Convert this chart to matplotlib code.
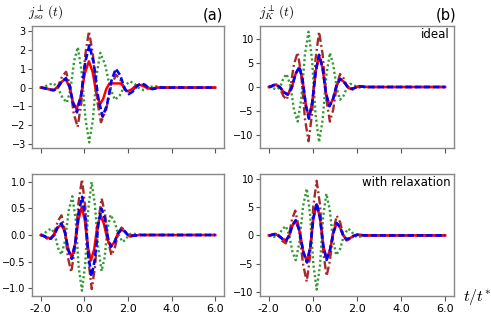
import matplotlib
matplotlib.use('Agg')
import matplotlib.pyplot as plt

plt.rcParams['mathtext.fontset'] = 'cm'
plt.rcParams['font.family'] = ['DejaVu Sans']

# ---------------- data ----------------
# panel (a): j_so, ideal
t_a_red = [-2.0,-1.8,-1.6,-1.4,-1.22,-1.04,-0.86,-0.69,-0.53,-0.36,-0.17,0.02,0.21,0.38,0.55,0.72,0.86,1.01,1.15,1.65,1.76,1.86,1.97,2.15,2.32,2.5,2.67,2.83,3.0,3.13,3.27,3.4,6.0]
v_a_red = [0,-0.03,-0.09,-0.12,0.02,0.31,0.45,0.05,-0.75,-1.15,-0.51,0.76,1.4,0.83,-0.31,-0.88,-0.61,-0.06,0.22,0.22,0.12,-0.10,-0.2,-0.11,0.06,0.15,0.10,0.0,-0.05,-0.04,-0.01,0,0]
t_a_blue = [-2.0,-1.8,-1.6,-1.4,-1.21,-1.03,-0.84,-0.67,-0.51,-0.34,-0.15,0.04,0.23,0.43,0.64,0.84,1.04,1.24,1.44,1.64,1.83,2.03,2.22,2.41,2.6,2.77,2.93,3.1,3.23,3.37,3.5,6.0]
v_a_blue = [0,-0.04,-0.11,-0.15,0.01,0.34,0.5,0.05,-0.87,-1.32,-0.43,1.36,2.25,1.30,-0.60,-1.55,-0.91,0.36,1.0,0.66,-0.01,-0.35,-0.21,0.08,0.22,0.15,-0.01,-0.08,-0.06,-0.02,0,0]
t_a_brown = [-2.0,-1.79,-1.59,-1.38,-1.2,-1.02,-0.84,-0.66,-0.49,-0.31,-0.14,0.04,0.21,0.39,0.58,0.76,0.99,1.22,1.45,1.64,1.83,2.02,2.2,2.37,2.55,2.72,2.88,3.05,3.2,3.35,3.5,6.0]
v_a_brown = [0,-0.04,-0.11,-0.15,0.10,0.59,0.84,0.11,-1.37,-2.1,-0.83,1.73,3.0,1.79,-0.64,-1.85,-1.22,0.05,0.68,0.44,-0.06,-0.3,-0.18,0.06,0.18,0.12,0.01,-0.05,-0.04,-0.01,0,0]
t_a_green = [-2.0,-1.8,-1.6,-1.4,-1.2,-1.0,-0.8,-0.63,-0.47,-0.3,-0.13,0.05,0.22,0.39,0.56,0.73,0.95,1.18,1.4,1.63,1.85,2.08,2.29,2.49,2.7,2.87,3.03,3.2,3.37,3.53,3.7,6.0]
v_a_green = [0,0.06,0.17,0.22,-0.04,-0.55,-0.8,-0.06,1.41,2.15,0.88,-1.65,-2.92,-1.73,0.66,1.85,1.23,-0.03,-0.65,-0.41,0.09,0.33,0.22,-0.02,-0.13,-0.08,0.03,0.08,0.06,0.02,0,0]

# panel (b): j_K, ideal
t_b_brown = [-2.0,-1.88,-1.77,-1.65,-1.5,-1.34,-1.19,-1.02,-0.86,-0.69,-0.53,-0.36,-0.2,-0.04,0.12,0.28,0.44,0.61,0.77,0.92,1.08,1.23,1.39,1.54,1.7,1.83,1.97,2.1,2.23,2.37,2.5,6.0]
v_b_brown = [0,0.13,0.38,0.5,-0.29,-1.86,-2.65,-0.19,4.74,7.2,2.58,-6.68,-11.3,-5.6,5.8,11.5,6.83,-2.53,-7.2,-4.73,0.23,2.7,1.85,0.15,-0.7,-0.48,-0.03,0.2,0.15,0.05,0,0]
t_b_blue = [-2.0,-1.89,-1.79,-1.68,-1.5,-1.32,-1.14,-0.96,-0.79,-0.61,-0.47,-0.32,-0.18,-0.03,0.13,0.28,0.44,0.59,0.75,0.91,1.07,1.23,1.39,1.56,1.72,1.85,1.97,2.1,2.23,2.37,2.5,6.0]
v_b_blue = [0,0.13,0.38,0.5,-0.03,-1.08,-1.6,-0.15,2.75,4.2,1.5,-3.9,-6.6,-3.28,3.38,6.7,4.03,-1.33,-4.0,-2.58,0.28,1.7,1.18,0.13,-0.4,-0.28,-0.03,0.1,0.08,0.03,0,0]
t_b_red = t_b_blue
v_b_red = [0,0.12,0.37,0.48,-0.03,-1.05,-1.55,-0.15,2.67,4.07,1.46,-3.78,-6.4,-3.18,3.28,6.5,3.91,-1.29,-3.88,-2.5,0.27,1.65,1.14,0.13,-0.39,-0.27,-0.03,0.1,0.08,0.03,0,0]
t_b_green = [-2.0,-1.87,-1.73,-1.6,-1.46,-1.33,-1.19,-1.02,-0.86,-0.69,-0.53,-0.36,-0.2,-0.04,0.12,0.28,0.44,0.61,0.77,0.92,1.08,1.23,1.39,1.54,1.7,1.83,1.97,2.1,2.23,2.37,2.5,6.0]
v_b_green = [0,-0.13,-0.38,-0.5,0.3,1.9,2.7,0.23,-4.73,-7.2,-2.53,6.83,11.5,5.75,-5.75,-11.5,-6.85,2.45,7.1,4.66,-0.21,-2.65,-1.83,-0.18,0.65,0.46,0.09,-0.1,-0.08,-0.03,0,0]

# panel (c): j_so, with relaxation
t_c_brown = [-2.0,-1.85,-1.7,-1.55,-1.38,-1.22,-1.05,-0.9,-0.75,-0.6,-0.44,-0.27,-0.11,0.04,0.19,0.34,0.49,0.64,0.79,0.94,1.09,1.24,1.39,1.55,1.7,1.83,1.97,2.1,2.23,2.37,2.5,6.0]
v_c_brown = [0,-0.02,-0.07,-0.09,0.03,0.26,0.37,0.10,-0.43,-0.7,-0.26,0.61,1.05,0.53,-0.50,-1.02,-0.59,0.26,0.69,0.42,-0.11,-0.38,-0.25,0.01,0.14,0.10,0.01,-0.03,-0.02,-0.01,0,0]
t_c_blue = [-2.0,-1.85,-1.7,-1.55,-1.38,-1.22,-1.05,-0.89,-0.74,-0.58,-0.42,-0.26,-0.1,0.04,0.19,0.33,0.48,0.63,0.78,0.93,1.07,1.22,1.38,1.54,1.7,1.83,1.97,2.1,2.23,2.37,2.5,6.0]
v_c_blue = [0,-0.02,-0.05,-0.07,0.0,0.15,0.22,0.05,-0.28,-0.45,-0.16,0.43,0.72,0.35,-0.41,-0.78,-0.46,0.18,0.5,0.32,-0.04,-0.22,-0.14,0.03,0.11,0.08,0.01,-0.02,-0.01,-0.01,0,0]
t_c_red = [-2.0,-1.85,-1.7,-1.55,-1.38,-1.22,-1.05,-0.89,-0.74,-0.58,-0.43,-0.27,-0.12,0.02,0.16,0.3,0.45,0.59,0.74,0.89,1.05,1.2,1.37,1.53,1.7,1.83,1.97,2.1,2.23,2.37,2.5,6.0]
v_c_red = [0,-0.02,-0.05,-0.06,0.01,0.14,0.2,0.05,-0.27,-0.42,-0.18,0.29,0.53,0.28,-0.23,-0.48,-0.27,0.16,0.37,0.22,-0.07,-0.22,-0.14,0.02,0.1,0.07,0.01,-0.02,-0.01,-0.01,0,0]
t_c_green = [-2.0,-1.83,-1.67,-1.5,-1.35,-1.2,-1.05,-0.88,-0.72,-0.55,-0.4,-0.26,-0.11,0.04,0.18,0.33,0.48,0.64,0.79,0.93,1.06,1.2,1.38,1.57,1.75,1.88,2.02,2.15,2.3,2.45,2.6,6.0]
v_c_green = [0,0.03,0.09,0.12,0.0,-0.25,-0.37,-0.10,0.46,0.73,0.29,-0.61,-1.05,-0.54,0.49,1.0,0.58,-0.26,-0.68,-0.42,0.12,0.38,0.25,0.0,-0.13,-0.09,-0.01,0.03,0.02,0.01,0,0]

# panel (d): j_K, with relaxation
t_d_brown = [-2.0,-1.9,-1.8,-1.7,-1.54,-1.39,-1.23,-1.09,-0.94,-0.8,-0.63,-0.45,-0.28,-0.13,0.02,0.17,0.32,0.47,0.62,0.77,0.93,1.08,1.23,1.37,1.52,1.68,1.84,2.0,2.13,2.27,2.4,6.0]
v_d_brown = [0,0.08,0.23,0.3,-0.13,-0.98,-1.4,0.05,2.95,4.4,1.25,-5.05,-8.2,-3.73,5.23,9.7,5.48,-2.98,-7.2,-4.53,0.83,3.5,2.4,0.2,-0.9,-0.64,-0.11,0.15,0.11,0.04,0,0]
t_d_blue = [-2.0,-1.9,-1.8,-1.7,-1.54,-1.38,-1.22,-1.07,-0.93,-0.78,-0.61,-0.44,-0.27,-0.12,0.02,0.17,0.32,0.47,0.62,0.77,0.93,1.08,1.23,1.37,1.52,1.68,1.84,2.0,2.13,2.27,2.4,6.0]
v_d_blue = [0,0.05,0.15,0.2,-0.08,-0.63,-0.9,0.0,1.8,2.7,0.83,-2.93,-4.8,-2.18,3.08,5.7,3.19,-1.84,-4.35,-2.71,0.56,2.2,1.48,0.03,-0.7,-0.5,-0.1,0.1,0.08,0.03,0,0]
t_d_red = t_d_blue
v_d_red = [0,0.05,0.15,0.19,-0.08,-0.61,-0.87,0.0,1.75,2.62,0.8,-2.84,-4.66,-2.11,2.99,5.53,3.09,-1.78,-4.22,-2.63,0.54,2.13,1.44,0.03,-0.68,-0.49,-0.1,0.1,0.08,0.03,0,0]
t_d_green = [-2.0,-1.89,-1.79,-1.68,-1.53,-1.38,-1.23,-1.08,-0.93,-0.78,-0.61,-0.45,-0.28,-0.13,0.02,0.17,0.32,0.46,0.61,0.76,0.91,1.06,1.24,1.41,1.59,1.73,1.86,2.0,2.13,2.27,2.4,6.0]
v_d_green = [0,-0.08,-0.23,-0.3,0.19,1.16,1.65,0.14,-2.89,-4.4,-1.23,5.13,8.3,3.83,-5.13,-9.6,-5.35,3.15,7.4,4.68,-0.78,-3.5,-2.33,0.03,1.2,0.83,0.08,-0.3,-0.23,-0.08,0,0]

x_ticks = [-2, 0, 2, 4, 6]
x_tick_labels = ["-2.0", "0.0", "2.0", "4.0", "6.0"]
yticks_a = [-3, -2, -1, 0, 1, 2, 3]
yticks_b = [-10, -5, 0, 5, 10]
yticks_c = [-1.0, -0.5, 0.0, 0.5, 1.0]
yticks_d = [-10, -5, 0, 5, 10]

# ---------------- figure ----------------
W, H = 491, 316
fig = plt.figure(figsize=(W / 100, H / 100), dpi=100)

def add_ax(l, t, r, b):
    return fig.add_axes([l / W, 1 - b / H, (r - l) / W, (b - t) / H])

styles = {
    'brown': dict(color='#a52a2a', ls=(0, (3.5, 1.3, 0.8, 1.3)), lw=1.7),
    'green': dict(color='#2e9a2e', ls=(0, (0.9, 1.1)), lw=1.7),
    'red':   dict(color='#ff0000', ls='-', lw=1.8),
    'blue':  dict(color='#0000ff', ls=(0, (2.4, 1.1)), lw=1.9),
}

panels = [
    (add_ax(32, 26, 224, 148), [('brown', t_a_brown, v_a_brown), ('green', t_a_green, v_a_green),
                                ('red', t_a_red, v_a_red), ('blue', t_a_blue, v_a_blue)],
     yticks_a, "%d", (-3.22, 3.28), False),
    (add_ax(260, 26, 454, 148), [('brown', t_b_brown, v_b_brown), ('green', t_b_green, v_b_green),
                                 ('red', t_b_red, v_b_red), ('blue', t_b_blue, v_b_blue)],
     yticks_b, "%d", (-12.7, 12.7), False),
    (add_ax(32, 174, 224, 296), [('brown', t_c_brown, v_c_brown), ('green', t_c_green, v_c_green),
                                 ('red', t_c_red, v_c_red), ('blue', t_c_blue, v_c_blue)],
     yticks_c, "%.1f", (-1.15, 1.15), True),
    (add_ax(260, 174, 454, 296), [('brown', t_d_brown, v_d_brown), ('green', t_d_green, v_d_green),
                                  ('red', t_d_red, v_d_red), ('blue', t_d_blue, v_d_blue)],
     yticks_d, "%d", (-10.75, 10.9), True),
]

for ax, curves, yt, fmt, ylim, showx in panels:
    for name, tt, vv in curves:
        ax.plot(tt, vv, **styles[name])
    ax.set_xlim(-2.4, 6.4)
    ax.set_ylim(*ylim)
    ax.set_xticks(x_ticks)
    if showx:
        ax.set_xticklabels(x_tick_labels, fontsize=8)
    else:
        ax.set_xticklabels([])
    ax.set_yticks(yt)
    ax.set_yticklabels([(fmt % v).replace('-', '\u2212') for v in yt], fontsize=7)
    for s in ax.spines.values():
        s.set_color('#888888')
        s.set_linewidth(1.0)
    ax.tick_params(axis='x', direction='out', length=3.5, width=0.8, color='#555555', pad=2)
    ax.tick_params(axis='y', direction='out', length=3.0, width=0.8, color='#555555', pad=1.5)

fig.text(213 / W, 1 - 15.5 / H, "(a)", fontsize=10.5, ha='center', va='center')
fig.text(446 / W, 1 - 15.5 / H, "(b)", fontsize=10.5, ha='center', va='center')
fig.text(46 / W, 1 - 13 / H, r"$j^{\perp}_{so}\,(t)$", fontsize=9.5, ha='center', va='center')
fig.text(277 / W, 1 - 13 / H, r"$j^{\perp}_{K}\,(t)$", fontsize=9.5, ha='center', va='center')
fig.text(450 / W, 1 - 34 / H, "ideal", fontsize=8.5, ha='right', va='center')
fig.text(451 / W, 1 - 182 / H, "with relaxation", fontsize=8.5, ha='right', va='center')
fig.text(477 / W, 1 - 297 / H, r"$t/t^{*}$", fontsize=11.5, ha='center', va='center')

fig.savefig("out.png", dpi=100)
